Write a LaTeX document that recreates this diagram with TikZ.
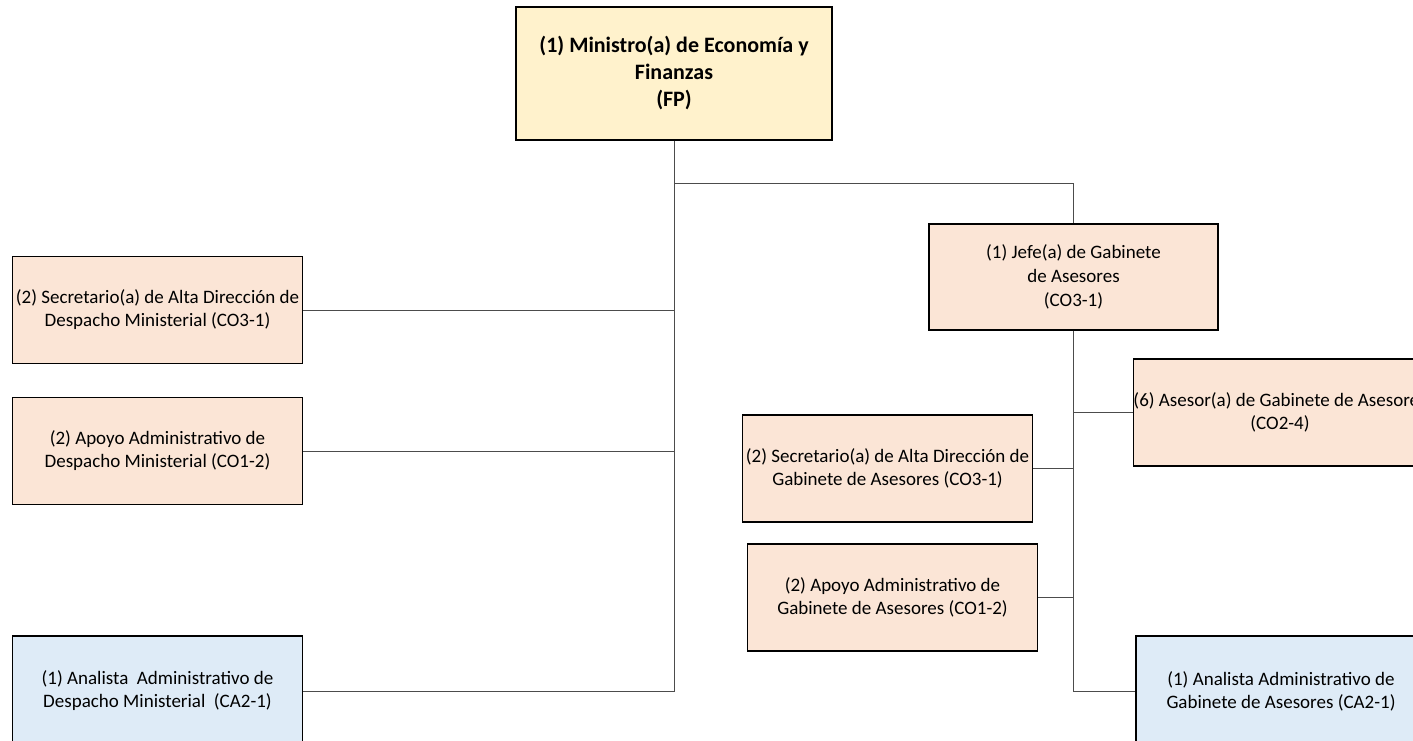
\documentclass[tikz,border=0pt]{standalone}
\usepackage{fontspec}
\setmainfont{Carlito}
\usetikzlibrary{positioning}
\definecolor{amarillo}{HTML}{FFF2CC}
\definecolor{durazno}{HTML}{FBE5D6}
\definecolor{celeste}{HTML}{DEEBF7}
\tikzset{
	cargo/.style={draw=black, line width=1.2pt, rectangle, fill=durazno, align=center, inner sep=0pt,
		minimum width=290, minimum height=107, font=\fontsize{19}{23}\selectfont},
	analista/.style={cargo, fill=celeste},
	linea/.style={draw=black!70, line width=0.9pt},
}
\begin{document}
\begin{tikzpicture}[x=1pt, y=-1pt]
			\useasboundingbox (0,0) rectangle (1413,741);
			\clip (0,0) rectangle (1413,741);
			\node[cargo, fill=amarillo, minimum width=316, minimum height=133, font=\bfseries\fontsize{22}{27}\selectfont] (ministro) at (674,73.5) {(1) Ministro(a) de Economía y\\ Finanzas\\ (FP)};
			\node[cargo] (secdm) at (157.5,310) {(2) Secretario(a) de Alta Dirección de\\ Despacho Ministerial (CO3-1)};
			\node[cargo] (apoyodm) at (157.5,451) {(2) Apoyo Administrativo de\\ Despacho Ministerial (CO1-2)};
			\node[analista, minimum height=110] (analistadm) at (157.5,691) {(1) Analista \ Administrativo de\\ Despacho Ministerial \ (CA2-1)};
			\node[cargo, minimum width=289, minimum height=106, font=\fontsize{19}{24}\selectfont] (jefe) at (1073.5,277) {(1) Jefe(a) de Gabinete\\ de Asesores\\ (CO3-1)};
			\node[cargo] (asesor) at (1280,412.5) {(6) Asesor(a) de Gabinete de Asesores\\ (CO2-4)};
			\node[cargo] (secga) at (887.5,468.5) {(2) Secretario(a) de Alta Dirección de\\ Gabinete de Asesores (CO3-1)};
			\node[cargo] (apoyoga) at (892.5,597.5) {(2) Apoyo Administrativo de\\ Gabinete de Asesores (CO1-2)};
			\node[analista, minimum height=110] (analistaga) at (1281,691) {(1) Analista Administrativo de\\ Gabinete de Asesores (CA2-1)};
			\coordinate (rama) at (674,183);

			\path[linea] (ministro.south) |- (analistadm.east);
			\path[linea] (rama) -| (jefe.north);
			\path[linea] (secdm.east) -- (secdm.east -| ministro.south);
			\path[linea] (apoyodm.east) -- (apoyodm.east -| ministro.south);
			\path[linea] (jefe.south) |- (analistaga.west);
			\path[linea] (asesor.west) -- (asesor.west -| jefe.south);
			\path[linea] (secga.east) -- (secga.east -| jefe.south);
			\path[linea] (apoyoga.east) -- (apoyoga.east -| jefe.south);
		\end{tikzpicture}
\end{document}
